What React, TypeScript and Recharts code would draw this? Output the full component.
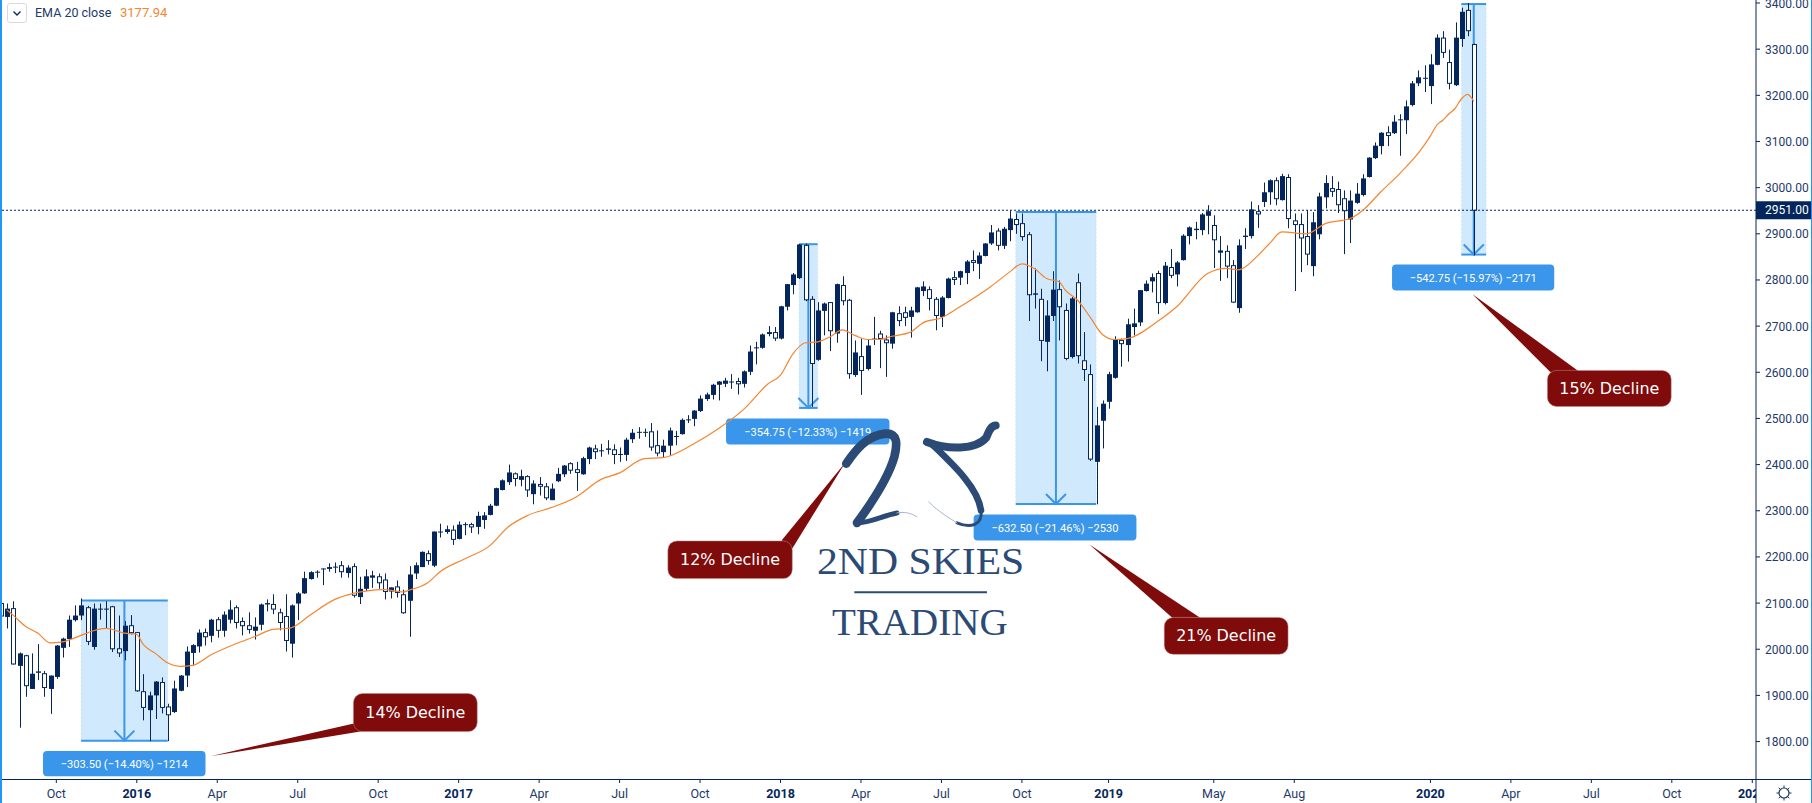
import React from "react";
import { ComposedChart, XAxis, YAxis, Bar, Line, ReferenceArea, ReferenceLine } from "recharts";

const opens = [
  2099,2070,2088,1964,1986,1914,1949,1947,1914,1940,
  2003,2022,2063,2073,2090,2005,2087,2087,2092,2001,
  1996,2051,2036,1908,1868,1900,1928,1875,1864,1910,
  1943,1992,2006,2036,2029,2064,2040,2064,2090,2060,
  2051,2040,2053,2097,2097,2079,2071,2012,2099,2121,
  2152,2167,2173,2174,2178,2181,2165,2179,2113,2131,
  2155,2157,2150,2125,2135,2118,2105,2164,2178,2207,
  2181,2254,2254,2258,2239,2270,2270,2265,2280,2291,
  2311,2345,2362,2380,2367,2374,2336,2357,2352,2323,
  2364,2379,2402,2389,2379,2412,2434,2429,2432,2432,
  2422,2421,2455,2470,2469,2471,2441,2427,2441,2461,
  2466,2497,2499,2516,2542,2551,2573,2575,2579,2580,
  2575,2601,2653,2653,2683,2686,2673,2742,2789,2804,
  2875,2758,2627,2733,2751,2684,2788,2756,2594,2634,
  2607,2671,2683,2670,2662,2727,2729,2720,2730,2776,
  2779,2758,2720,2761,2805,2805,2815,2842,2835,2852,
  2879,2906,2874,2908,2931,2922,2898,2768,2758,2666,
  2722,2779,2734,2633,2794,2625,2595,2406,2495,2536,
  2588,2669,2659,2698,2708,2776,2797,2814,2750,2827,
  2812,2843,2895,2908,2908,2939,2918,2859,2862,2831,
  2739,2893,2895,2948,2969,2990,3015,2973,3022,2928,
  2920,2894,2830,2899,2979,2998,2996,2976,2931,2967,
  2984,3023,3064,3090,3119,3118,3147,3146,3179,3226,
  3237,3220,3266,3324,3271,3222,3322,3384,3310,
];
const highs = [
  2104,2099,2104,1993,1988,1991,2011,1953,1943,2009,
  2025,2073,2095,2110,2094,2099,2099,2104,2094,2073,
  2061,2074,2037,1946,1908,1931,1939,1882,1932,1944,
  2006,2011,2043,2045,2066,2070,2082,2106,2095,2069,
  2080,2069,2099,2108,2119,2088,2119,2097,2124,2168,
  2169,2171,2175,2186,2188,2191,2182,2186,2157,2173,
  2170,2164,2164,2134,2149,2129,2180,2188,2212,2214,
  2255,2272,2268,2268,2277,2275,2274,2298,2297,2315,
  2350,2368,2400,2383,2389,2377,2366,2373,2360,2359,
  2393,2399,2405,2406,2417,2439,2443,2445,2453,2444,
  2437,2458,2477,2481,2478,2490,2474,2454,2480,2473,
  2500,2507,2518,2550,2556,2575,2581,2588,2596,2588,
  2604,2658,2666,2684,2700,2698,2744,2791,2815,2878,
  2879,2765,2752,2751,2752,2792,2808,2759,2669,2673,
  2672,2720,2690,2680,2731,2743,2742,2742,2785,2797,
  2786,2763,2765,2805,2819,2820,2843,2864,2860,2880,
  2919,2912,2915,2951,2944,2944,2904,2825,2781,2756,
  2819,2799,2749,2763,2814,2687,2617,2525,2539,2601,
  2678,2673,2716,2738,2778,2799,2814,2820,2839,2867,
  2841,2899,2916,2926,2945,2962,2940,2895,2875,2843,
  2888,2912,2970,2962,3011,3018,3022,3030,3029,2944,
  2944,2951,2947,2989,3027,3025,3013,2994,2994,3010,
  3029,3066,3098,3120,3133,3157,3159,3189,3231,3254,
  3265,3289,3332,3339,3299,3358,3390,3400,3312,
];
const lows = [
  2071,2045,1967,1830,1897,1914,1933,1897,1860,1936,
  1982,2005,2060,2063,2009,1999,2064,2045,1994,1983,
  1976,2032,1908,1846,1801,1849,1861,1801,1862,1909,
  1918,1966,1993,2008,2015,2025,2027,2056,2045,2030,
  2034,2021,2041,2082,2076,2041,1995,1982,2063,2120,
  2151,2155,2139,2168,2165,2155,2155,2112,2098,2126,
  2133,2131,2108,2110,2112,2077,2027,2152,2178,2183,
  2178,2242,2250,2226,2238,2247,2252,2249,2261,2290,
  2310,2344,2356,2353,2353,2330,2314,2333,2323,2323,
  2362,2373,2380,2343,2378,2401,2412,2417,2422,2401,
  2406,2408,2447,2456,2460,2430,2418,2415,2420,2442,
  2465,2490,2483,2514,2538,2541,2539,2568,2564,2552,
  2567,2594,2617,2651,2678,2668,2671,2734,2769,2802,
  2754,2525,2625,2680,2646,2664,2745,2586,2590,2551,
  2604,2659,2609,2590,2651,2700,2700,2675,2729,2765,
  2734,2691,2698,2760,2789,2789,2791,2819,2802,2851,
  2876,2864,2867,2884,2900,2885,2711,2738,2624,2602,
  2711,2669,2626,2630,2619,2581,2408,2314,2435,2521,
  2586,2612,2623,2680,2700,2775,2773,2726,2747,2804,
  2786,2842,2877,2888,2897,2899,2826,2798,2804,2750,
  2729,2867,2890,2913,2958,2963,2962,2972,2912,2776,
  2817,2832,2808,2888,2955,2980,2945,2856,2880,2965,
  2981,3022,3062,3072,3090,3116,3069,3116,3176,3220,
  3207,3181,3265,3281,3213,3220,3305,3328,2853,
];
const closes = [
  2072,2088,1968,1991,1921,1947,1952,1917,1943,2008,
  2023,2064,2073,2095,2017,2088,2088,2088,2001,1992,
  2051,2036,1910,1874,1900,1930,1874,1858,1915,1943,
  1995,2009,2036,2027,2064,2041,2075,2086,2058,2051,
  2043,2049,2097,2100,2087,2058,2019,2095,2121,2154,
  2167,2168,2175,2178,2179,2168,2177,2117,2131,2158,
  2160,2144,2125,2134,2123,2079,2162,2182,2211,2192,
  2255,2255,2260,2238,2270,2271,2265,2289,2290,2311,
  2349,2366,2383,2370,2375,2345,2359,2353,2328,2348,
  2380,2398,2388,2383,2414,2437,2428,2431,2435,2422,
  2423,2454,2469,2471,2471,2438,2425,2441,2474,2462,
  2497,2498,2517,2543,2552,2573,2580,2582,2580,2575,
  2602,2645,2654,2682,2687,2674,2743,2791,2812,2877,
  2757,2619,2734,2749,2690,2791,2755,2597,2643,2604,
  2658,2673,2673,2664,2730,2712,2719,2734,2784,2786,
  2760,2723,2762,2803,2801,2819,2840,2838,2853,2879,
  2903,2875,2911,2933,2920,2894,2768,2771,2669,2723,
  2779,2742,2630,2760,2636,2606,2412,2485,2532,2596,
  2670,2662,2704,2706,2778,2792,2806,2751,2831,2810,
  2838,2896,2914,2911,2942,2949,2887,2864,2830,2752,
  2875,2896,2953,2943,2990,3016,2976,3025,2933,2920,
  2891,2856,2925,2981,3010,2992,2963,2950,2972,2987,
  3020,3065,3091,3119,3113,3143,3148,3176,3226,3239,
  3238,3267,3325,3293,3226,3325,3381,3340,2951,
];

const emaWeeks = [1,2,4,6,8,10,13,15,17,20,22,23,25,27,29,31,34,38,41,44,46,47,50,54,57,59,62,65,66,69,71,75,79,82,85,89,93,97,100,104,107,112,116,120,124,126,128,130,132,134,136,138,140,142,144,147,149,152,155,160,163,165,167,169,171,172,174,176,178,180,182,187,190,195,198,200,203,205,207,211,214,218,220,223,226,229,230,231,232,233,234,235,236,237,238];
const emaValues = [2085,2074,2050,2035,2014,2016,2030,2040,2045,2035,2032,2011,1991,1970,1963,1965,1988,2012,2027,2043,2045,2047,2074,2108,2121,2126,2129,2124,2128,2144,2168,2196,2224,2265,2289,2307,2330,2368,2382,2413,2415,2445,2478,2519,2575,2594,2640,2664,2666,2677,2692,2680,2671,2671,2678,2687,2707,2718,2742,2786,2817,2835,2825,2803,2796,2778,2756,2720,2682,2671,2673,2711,2742,2814,2825,2822,2851,2879,2904,2900,2922,2933,2950,2991,3030,3074,3092,3112,3135,3146,3160,3172,3192,3202,3187];

const tickWeeks = [9,22,35,48,61,74,87,100,113,126,139,152,165,179,196,209,231,244,257,270,283];
const tickLabels = ["Oct","2016","Apr","Jul","Oct","2017","Apr","Jul","Oct","2018","Apr","Jul","Oct","2019","May","Aug","2020","Apr","Jul","Oct","2021"];
const priceTicks = [1800,1900,2000,2100,2200,2300,2400,2500,2600,2700,2800,2900,3000,3100,3200,3300,3400];

const lastPrice = 2951;

// measure boxes: [week left, week right, week of arrow, price top, price bottom]
const measureBoxes = [
  [13, 27, 20, 2105.5, 1802],
  [129, 132, 130.5, 2877.5, 2522.75],
  [164, 177, 170.5, 2947, 2314.5],
  [236, 240, 238, 3397.75, 2855],
];
// measure chips: text, week left, week right, price top, price bottom
const chipTexts = ["−303.50 (−14.40%) −1214","−354.75 (−12.33%) −1419","−632.50 (−21.46%) −2530","−542.75 (−15.97%) −2171"];
const chipBounds = [
  [6.85, 33.1, 1779.6, 1724.8],
  [117.2, 143.6, 2499.7, 2443.4],
  [157.2, 183.5, 2291.8, 2235.4],
  [224.8, 251, 2833.4, 2777],
];
// callouts: text, box [week left, week right, price top, price bottom], tail [tip week, tip price, base1 week, base1 price, base2 week, base2 price]
const calloutTexts = ["14% Decline","12% Decline","21% Decline","15% Decline"];
const calloutBoxes = [
  [57, 77, 1904, 1821.7],
  [107.8, 127.9, 2234.6, 2153],
  [188, 208, 2069, 1989],
  [249.9, 269.9, 2604, 2526],
];
const calloutTails = [
  [33.9, 1768, 57.6, 1841, 58.6, 1823],
  [136.5, 2405, 126.2, 2236, 127.7, 2214],
  [175.9, 2226.8, 189.3, 2068, 193.8, 2068],
  [237.8, 2769, 250.4, 2600, 254.9, 2603],
];
const logoAnchor = [103.35, 2539.4];

const XMIN = -0.1, XMAX = 283.6, YMIN = 1718.9, YMAX = 3406.5;
const NAVY = "#04265c";
const AXISTEXT = "#1d3a69";
const BLUE = "#3a96ea";
const UI = "Roboto, sans-serif";

const emaByWeek = new Map(emaWeeks.map((w, i) => [w, emaValues[i]]));
const rows = opens.map((o, i) => ({
  week: i, o, h: highs[i], l: lows[i], c: closes[i],
  range: [lows[i], highs[i]],
  ema: emaByWeek.has(i) ? emaByWeek.get(i) : null,
}));

const Candle = (p: any) => {
  const { x, y, width, height, payload } = p;
  if (height == null || !payload) return null;
  const cx = Math.round(x + width / 2);
  const k = height / (payload.h - payload.l);
  const top = y + (payload.h - Math.max(payload.o, payload.c)) * k;
  const bot = y + (payload.h - Math.min(payload.o, payload.c)) * k;
  const up = payload.c >= payload.o;
  const bh = Math.max(bot - top, 1);
  return (
    <g>
      <line x1={cx + 0.5} x2={cx + 0.5} y1={y} y2={y + height} stroke={NAVY} strokeWidth={1} />
      {up ? (
        <rect x={cx - 2} y={top} width={5} height={bh} fill={NAVY} />
      ) : (
        <rect x={cx - 1.5} y={top} width={4} height={bh} fill="#fff" stroke={NAVY} strokeWidth={1} />
      )}
    </g>
  );
};

const layer = (render: (sx: (v: number) => number, sy: (v: number) => number, r: any) => any) => (p: any) => {
  const sx = (v: number) => p.x + ((v - XMIN) / (XMAX - XMIN)) * p.width;
  const sy = (v: number) => p.y + ((YMAX - v) / (YMAX - YMIN)) * p.height;
  return render(sx, sy, p);
};

const drawBoxes = layer((sx, sy) => (
  <g>
    {measureBoxes.map(([a, b, m, t, u], i) => (
      <g key={i}>
        <rect x={sx(a)} y={sy(t)} width={sx(b) - sx(a)} height={sy(u) - sy(t)} fill="#2196f3" fillOpacity={0.21} />
        <line x1={sx(a)} x2={sx(a)} y1={sy(t)} y2={sy(u)} stroke={BLUE} strokeOpacity={0.12} strokeDasharray="2 2" />
        <line x1={sx(b)} x2={sx(b)} y1={sy(t)} y2={sy(u)} stroke={BLUE} strokeOpacity={0.12} strokeDasharray="2 2" />
        <line x1={sx(a)} x2={sx(b)} y1={sy(t)} y2={sy(t)} stroke={BLUE} strokeWidth={2} />
        <line x1={sx(a)} x2={sx(b)} y1={sy(u)} y2={sy(u)} stroke={BLUE} strokeWidth={2} />
        <line x1={sx(m)} x2={sx(m)} y1={sy(t)} y2={sy(u)} stroke={BLUE} strokeWidth={2} />
        <path d={`M${sx(m) - 10},${sy(u) - 10} L${sx(m)},${sy(u)} L${sx(m) + 10},${sy(u) - 10}`} fill="none" stroke={BLUE} strokeWidth={2} />
      </g>
    ))}
  </g>
));

const drawOverlay = layer((sx, sy, r) => {
  const ox = sx(logoAnchor[0]);
  const oy = sy(logoAnchor[1]);
  const ink = "#2b4a75";
  return (
    <g>
      {chipBounds.map(([a, b, t, u], i) => (
        <g key={i}>
          <rect x={sx(a)} y={sy(t)} width={sx(b) - sx(a)} height={sy(u) - sy(t)} rx={4} fill={BLUE} />
          <text x={(sx(a) + sx(b)) / 2} y={(sy(t) + sy(u)) / 2 + 4} textAnchor="middle" fill="#fff" fontFamily={UI} fontSize={11.5} textLength={127} lengthAdjust="spacingAndGlyphs">{chipTexts[i]}</text>
        </g>
      ))}
      {calloutBoxes.map(([a, b, t, u], i) => {
        const [tw, tp, w1, p1, w2, p2] = calloutTails[i];
        return (
          <g key={i}>
            <polygon points={`${sx(tw)},${sy(tp)} ${sx(w1)},${sy(p1)} ${sx(w2)},${sy(p2)}`} fill="#7f0b0b" />
            <rect x={sx(a)} y={sy(t)} width={sx(b) - sx(a)} height={sy(u) - sy(t)} rx={9} fill="#7f0b0b" stroke="#c08a8a" strokeOpacity={0.5} />
            <text x={(sx(a) + sx(b)) / 2} y={(sy(t) + sy(u)) / 2 + 5.5} textAnchor="middle" fill="#fff" fontFamily="'DejaVu Sans', sans-serif" fontSize={15.5} textLength={100} lengthAdjust="spacingAndGlyphs">{calloutTexts[i]}</text>
          </g>
        );
      })}
      <g transform={`translate(${ox},${oy}) scale(0.33333)`} fill="none" strokeLinecap="round" strokeLinejoin="round">
        <path d="M618,190 C645,150 680,105 735,100 C772,98 772,130 762,170 C745,230 700,300 650,368" stroke={ink} strokeWidth={26} />
        <path d="M650,368 C690,368 730,345 770,338" stroke={ink} strokeWidth={15} />
        <path d="M770,338 C790,334 815,338 830,350" stroke="#a9b6c8" strokeWidth={3} />
        <path d="M860,125 C920,148 1005,150 1038,112 C1045,95 1050,78 1066,76" stroke={ink} strokeWidth={24} />
        <path d="M875,132 C935,190 1012,260 1022,330" stroke={ink} strokeWidth={20} />
        <path d="M1022,330 C1028,375 990,385 950,368" stroke={ink} strokeWidth={9} />
        <path d="M950,368 C930,355 895,335 865,305" stroke="#a9b6c8" strokeWidth={3} />
        <text x={530} y={520} fontFamily="'Liberation Serif', serif" fontSize={114} fill={ink} stroke="none" textLength={622} lengthAdjust="spacingAndGlyphs">2ND SKIES</text>
        <rect x={642} y={573} width={398} height={6} fill={ink} stroke="none" />
        <text x={575} y={703} fontFamily="'Liberation Serif', serif" fontSize={114} fill={ink} stroke="none" textLength={527} lengthAdjust="spacingAndGlyphs">TRADING</text>
      </g>
      <rect x={r.x + r.width} y={sy(lastPrice) - 9} width={55} height={18} fill={NAVY} />
      <text x={r.x + r.width + 9} y={sy(lastPrice) + 4} fill="#fff" fontFamily={UI} fontSize={12}>{lastPrice.toFixed(2)}</text>
      <line x1={r.x + r.width} x2={r.x + r.width} y1={r.y} y2={803} stroke={NAVY} />
      <line x1={r.x} x2={1812} y1={r.y + r.height + 0.5} y2={r.y + r.height + 0.5} stroke={NAVY} />
    </g>
  );
});

const XTick = (p: any) => {
  const k = tickWeeks.indexOf(p.payload.value);
  const label = tickLabels[k];
  const bold = /^\d/.test(label);
  return (
    <g clipPath="url(#timeClip)">
      <text x={p.x} y={798} textAnchor="middle" fill={bold ? NAVY : AXISTEXT} fontFamily={UI} fontSize={12.5} fontWeight={bold ? 700 : 400}>{label}</text>
    </g>
  );
};

const YTick = (p: any) => (
  <text x={1765} y={p.y + 4.5} fill={AXISTEXT} fontFamily={UI} fontSize={12}>{Number(p.payload.value).toFixed(2)}</text>
);

export default function App() {
  return (
    <div style={{ position: "absolute", left: 0, top: 0, width: 1812, height: 803, overflow: "hidden", background: "#fff" }}>
      <ComposedChart width={1812} height={803} data={rows} margin={{ top: 0, right: 0, bottom: 0, left: 0 }} barSize={5}>
        <defs>
          <clipPath id="timeClip"><rect x={0} y={779} width={1756} height={24} /></clipPath>
        </defs>
        <XAxis dataKey="week" type="number" domain={[XMIN, XMAX]} allowDataOverflow ticks={tickWeeks} interval={0} height={24} tick={<XTick />} tickSize={4} stroke={NAVY} axisLine={false} />
        <YAxis orientation="right" type="number" domain={[YMIN, YMAX]} allowDataOverflow ticks={priceTicks} interval={0} width={56} tick={<YTick />} tickSize={4} stroke={NAVY} axisLine={false} />
        <ReferenceArea x1={XMIN} x2={XMAX} y1={YMIN} y2={YMAX} ifOverflow="visible" shape={drawBoxes} />
        <ReferenceLine y={lastPrice} stroke={NAVY} strokeDasharray="2 2" />
        <Bar dataKey="range" shape={<Candle />} isAnimationActive={false} />
        <Line type="monotone" dataKey="ema" stroke="#f5862f" strokeWidth={1.2} dot={false} activeDot={false} connectNulls isAnimationActive={false} />
        <ReferenceArea x1={XMIN} x2={XMAX} y1={YMIN} y2={YMAX} ifOverflow="visible" shape={drawOverlay} />
      </ComposedChart>

      <div style={{ position: "absolute", left: 0, top: 0, width: 2, height: 803, background: "#2196f3" }} />
      <div style={{ position: "absolute", right: 0, top: 0, width: 1, height: 803, background: "#2196f3" }} />
      <div style={{ position: "absolute", left: 7, top: 3, width: 18, height: 18, border: "1px solid #d6dbe3", borderRadius: 3 }}>
        <svg width={18} height={18}><path d="M5.5,7.5 L9,11 L12.5,7.5" fill="none" stroke={NAVY} strokeWidth={1.3} /></svg>
      </div>
      <div style={{ position: "absolute", left: 35, top: 5, font: `12.5px ${UI}`, color: "#1d3a69", whiteSpace: "nowrap" }}>EMA 20 close</div>
      <div style={{ position: "absolute", left: 120, top: 5, font: `13px ${UI}`, color: "#f5862f", whiteSpace: "nowrap" }}>3177.94</div>
      <svg style={{ position: "absolute", left: 1774, top: 783 }} width={20} height={20}>
        <circle cx={10} cy={10} r={5} fill="none" stroke="#1d3a69" strokeWidth={1.2} />
        <path d="M10,2.5V5 M10,15V17.5 M2.5,10H5 M15,10H17.5 M4.7,4.7L6.5,6.5 M13.5,13.5L15.3,15.3 M15.3,4.7L13.5,6.5 M6.5,13.5L4.7,15.3" stroke="#1d3a69" strokeWidth={1} />
      </svg>
    </div>
  );
}
